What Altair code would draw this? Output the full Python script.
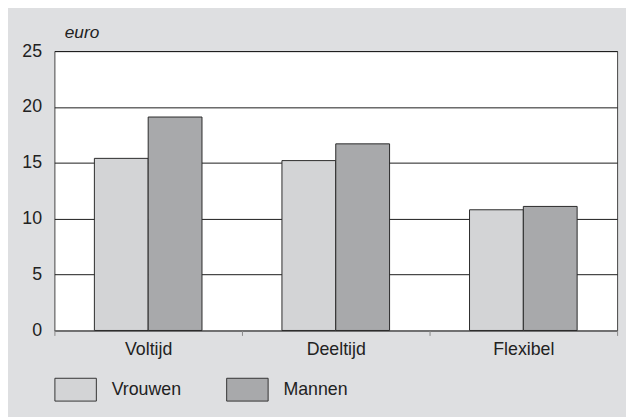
import altair as alt
import pandas as pd

categories = ["Voltijd", "Deeltijd", "Flexibel"]
series = ["Vrouwen", "Mannen"]
vrouwen = [15.4, 15.2, 10.8]
mannen = [19.1, 16.7, 11.1]

rows = []
for i, c in enumerate(categories):
    rows.append({"cat": c, "geslacht": "Vrouwen", "waarde": vrouwen[i]})
    rows.append({"cat": c, "geslacht": "Mannen", "waarde": mannen[i]})
df = pd.DataFrame(rows)

FONT = "Liberation Sans"
legend_shape = "M-1,-0.55H1V0.55H-1Z"

chart = alt.Chart(df).mark_bar(stroke="#2a2a2a", strokeWidth=1).encode(
    x=alt.X("cat:N", sort=categories,
            scale=alt.Scale(paddingInner=0, paddingOuter=0),
            axis=alt.Axis(title=None, labelAngle=0, labelFontSize=18, labelColor="#222",
                          labelFont=FONT, labelPadding=5, tickBand="extent", tickSize=5,
                          tickColor="#888", domainColor="#888", grid=False)),
    xOffset=alt.XOffset("geslacht:N", sort=series,
                        scale=alt.Scale(paddingInner=0, paddingOuter=0.743)),
    y=alt.Y("waarde:Q", scale=alt.Scale(domain=[0, 25], nice=False),
            axis=alt.Axis(values=[0, 5, 10, 15, 20, 25], title="euro", titleAngle=0,
                          titleAlign="left", titleBaseline="alphabetic", titleX=10, titleY=-14,
                          titleFont=FONT, titleFontStyle="italic", titleFontWeight="normal",
                          titleFontSize=17.5, titleColor="#222",
                          labelFontSize=18, labelColor="#222", labelFont=FONT, labelPadding=13,
                          tickSize=0, domain=False, grid=True, gridColor="#1a1a1a",
                          gridWidth=1)),
    color=alt.Color("geslacht:N", sort=series,
                    scale=alt.Scale(domain=series, range=["#d3d4d6", "#a8a9ab"]),
                    legend=alt.Legend(title=None, orient="none", legendX=0, legendY=321,
                                      direction="horizontal", symbolType=legend_shape,
                                      symbolSize=1764, symbolStrokeColor="#333",
                                      symbolStrokeWidth=1, symbolOpacity=1,
                                      labelFontSize=18, labelFont=FONT, labelColor="#222",
                                      labelOffset=15, columnPadding=43, padding=0)),
).properties(
    width=570, height=283,
    background="#dedfe1",
    padding={"left": 47, "top": 41, "right": 9, "bottom": 85},
    autosize=alt.AutoSizeParams(type="none"),
).configure_view(
    fill="white", stroke="#444", strokeWidth=1
)

chart.save("out.html", embed_options={"renderer": "svg", "actions": False})
